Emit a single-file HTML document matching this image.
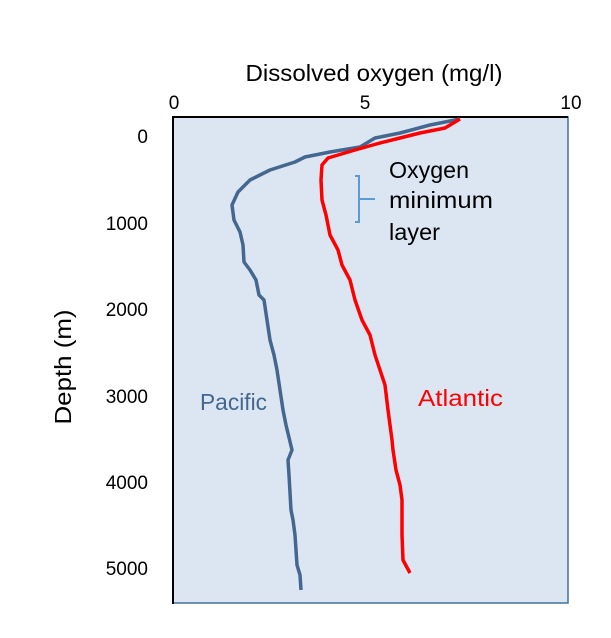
<!DOCTYPE html>
<html><head><style>body{margin:0;background:#fff}</style></head><body>
<svg width="611" height="633" xmlns="http://www.w3.org/2000/svg" font-family="Liberation Sans, sans-serif">
<rect x="173" y="117" width="395" height="486" fill="#dce6f2" stroke="#41719c" stroke-width="1.5"/>
<line x1="173" y1="116" x2="173" y2="604" stroke="#000" stroke-width="2"/>
<line x1="173" y1="117" x2="568" y2="117" stroke="#000" stroke-width="2"/>
<text x="374" y="81" font-size="23" text-anchor="middle" textLength="257" lengthAdjust="spacingAndGlyphs">Dissolved oxygen (mg/l)</text>
<g font-size="19" text-anchor="middle">
<text x="174" y="109">0</text><text x="365" y="109">5</text><text x="571" y="109">10</text>
</g>
<g font-size="19" text-anchor="end">
<text x="148" y="143">0</text><text x="148" y="230">1000</text><text x="148" y="316">2000</text>
<text x="148" y="403">3000</text><text x="148" y="489">4000</text><text x="148" y="575">5000</text>
</g>
<text transform="translate(71,367) rotate(-90)" font-size="23" text-anchor="middle" textLength="115" lengthAdjust="spacingAndGlyphs">Depth (m)</text>
<polyline fill="none" stroke="#44678f" stroke-width="3.5" stroke-linejoin="round" points="460,119 430,125 400,133 375,138 360,147 330,152 305,157 295,162 270,170 250,180 238,192 232,205 234,220 240,232 243,245 244,262 250,270 256,280 259,295 264,300 267,320 270,340 274,355 277,370 280,390 283,410 286,425 292,450 288,460 289,475 291,510 293,520 295,535 297,565 300,575 301,590"/>
<polyline fill="none" stroke="#ff0000" stroke-width="3.5" stroke-linejoin="round" points="460,119 445,128 420,133 400,138 380,143 355,150 328,158 322,165 321,180 322,200 326,215 330,235 338,250 342,265 350,280 355,300 362,320 370,335 375,355 380,370 385,385 388,410 392,440 393,450 396,470 400,485 402,500 402,535 403,560 410,573"/>
<path d="M355,176 H359 V222 H355 M359,199 H375" fill="none" stroke="#5b9bd5" stroke-width="2"/>
<g font-size="23">
<text x="389" y="178" textLength="80" lengthAdjust="spacingAndGlyphs">Oxygen</text><text x="389" y="208" textLength="104" lengthAdjust="spacingAndGlyphs">minimum</text><text x="389" y="240" textLength="51" lengthAdjust="spacingAndGlyphs">layer</text>
<text x="200" y="410" fill="#44678f" textLength="67" lengthAdjust="spacingAndGlyphs">Pacific</text>
<text x="418" y="406" fill="#ff0000" textLength="85" lengthAdjust="spacingAndGlyphs">Atlantic</text>
</g>
</svg>
</body></html>
